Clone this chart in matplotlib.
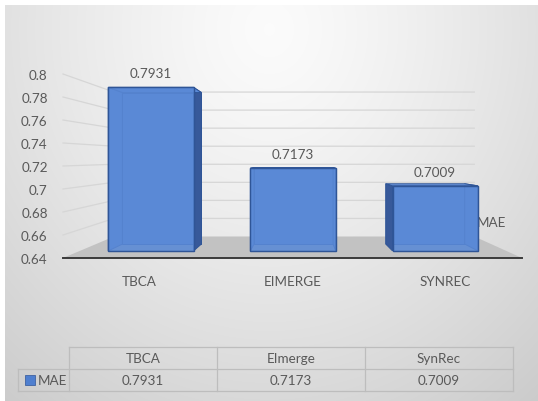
import numpy as np
import matplotlib
matplotlib.use('Agg')
import matplotlib.pyplot as plt
from matplotlib.patches import Polygon

# ---------------- data ----------------
categories = ['TBCA', 'EIMERGE', 'SYNREC']
table_headers = ['TBCA', 'EImerge', 'SynRec']
series_name = 'MAE'
mae_values = [0.7931, 0.7173, 0.7009]
ytick_values = [0.64, 0.66, 0.68, 0.70, 0.72, 0.74, 0.76, 0.78, 0.80]
ytick_labels = ['0.64', '0.66', '0.68', '0.7', '0.72', '0.74', '0.76', '0.78', '0.8']

# ---------------- style ----------------
plt.rcParams['font.family'] = ['Lato', 'DejaVu Sans']
TXT = '#595959'
FS = 9.7
W, H = 538, 402
fig = plt.figure(figsize=(W / 100, H / 100), dpi=100)

# background gradient
ax_bg = fig.add_axes([0, 0, 1, 1])
yy, xx = np.mgrid[0:H, 0:W]
r = np.hypot((xx - 269) / 300.0, (yy - 30) / 340.0)
g = np.clip(0.985 - 0.12 * r ** 1.3, 0, 1)
g[:6, :] = 1.0
g[:, :5] = 1.0
ax_bg.imshow(np.dstack([g, g, g]), extent=(0, W, H, 0), aspect='auto', interpolation='bilinear')
ax_bg.set_xlim(0, W)
ax_bg.set_ylim(H, 0)
ax_bg.axis('off')

# main (front-plane) axes
YMIN, YMAX = ytick_values[0], ytick_values[-1]
ax = fig.add_axes([63 / W, (H - 259) / H, 459 / W, 184 / H])
ax.set_xlim(-0.5, len(categories) - 0.5)
ax.set_ylim(YMIN, YMAX)
ax.patch.set_alpha(0)
for sp in ['top', 'right', 'left']:
    ax.spines[sp].set_visible(False)
ax.spines['bottom'].set_color('#3a3a3a')
ax.spines['bottom'].set_linewidth(1.4)
ax.spines['bottom'].set_zorder(5)
ax.set_yticks(ytick_values)
ax.set_yticklabels(ytick_labels)
ax.set_xticks(range(len(categories)))
ax.set_xticklabels(categories)
ax.tick_params(axis='y', length=0, pad=11, labelsize=FS, labelcolor=TXT)
ax.tick_params(axis='x', length=0, pad=12, labelsize=FS, labelcolor=TXT)

# perspective projection (vanishing point in data units)
XV, YV, S_BACK = 1.05, 0.727, 0.785
XL, XR = -0.5, len(categories) - 0.5


def P(x, v, z):
    k = 1 - (1 - S_BACK) * z
    return (XV + k * (x - XV), YV + k * (v - YV))


# gridlines (left wall + back wall)
for t in ytick_values[1:]:
    pts = [P(XL, t, 0), P(XL, t, 1), P(XR, t, 1)]
    ax.plot([p[0] for p in pts], [p[1] for p in pts], color='#d6d6d6', lw=0.9,
            zorder=1, clip_on=False)

# floor
floor = [P(XL, YMIN, 0), P(XR, YMIN, 0), P(XR, YMIN, 1), P(XL, YMIN, 1)]
ax.add_patch(Polygon(floor, closed=True, facecolor='#c2c2c2', edgecolor='none',
                     zorder=2, clip_on=False))

# bars
HW, Z0, Z1 = 0.30, 0.33, 0.65
FRONT = '#5a89d6'
SIDE = '#37599a'
TOP = '#6d97dc'
EDGE = '#2f5597'
for i, v in enumerate(mae_values):
    x0, x1 = i - HW, i + HW
    fb = [P(x0, YMIN, Z0), P(x1, YMIN, Z0), P(x1, v, Z0), P(x0, v, Z0)]
    bb = [P(x0, YMIN, Z1), P(x1, YMIN, Z1), P(x1, v, Z1), P(x0, v, Z1)]
    zb = 3
    ax.add_patch(Polygon(bb, facecolor=FRONT, edgecolor=EDGE, lw=0.7, zorder=zb, clip_on=False))
    left = [fb[0], bb[0], bb[3], fb[3]]
    right = [fb[1], bb[1], bb[2], fb[2]]
    ax.add_patch(Polygon(left, facecolor=SIDE if x0 > XV else FRONT, edgecolor=EDGE, lw=0.7,
                         zorder=zb + 0.1, clip_on=False))
    ax.add_patch(Polygon(right, facecolor=SIDE if x1 < XV else FRONT, edgecolor=EDGE, lw=0.7,
                         zorder=zb + 0.1, clip_on=False))
    top = [fb[3], fb[2], bb[2], bb[3]]
    ax.add_patch(Polygon(top, facecolor=TOP if v < YV else FRONT, edgecolor=EDGE, lw=0.7,
                         zorder=zb + 0.2, clip_on=False))
    ax.add_patch(Polygon(fb, facecolor=FRONT, edgecolor=EDGE, lw=0.9, alpha=0.88,
                         zorder=zb + 0.3, clip_on=False))
    ax.add_patch(Polygon(fb, facecolor='none', edgecolor=EDGE, lw=0.9,
                         zorder=zb + 0.4, clip_on=False))
    ax.annotate(f'{v:.4f}', xy=P(i, v, Z0), xytext=(0, 10), textcoords='offset points',
                ha='center', va='center', fontsize=FS, color=TXT, zorder=6)

# series (depth) axis label
ax.text(0.902, 0.196, series_name, transform=ax.transAxes, ha='left', va='center',
        fontsize=FS, color=TXT)

# ---------------- data table ----------------
LW = 51 / 148.0
ax_t = fig.add_axes([18 / W, (H - 392) / H, (513 - 18) / W, 44 / H])
ax_t.set_xlim(-LW, len(table_headers))
ax_t.set_ylim(0, 2)
ax_t.axis('off')
lc = '#bdbdbd'
lkw = dict(color=lc, lw=0.9, clip_on=False)
n = len(table_headers)
ax_t.plot([0, n], [2, 2], **lkw)
ax_t.plot([-LW, n], [1, 1], **lkw)
ax_t.plot([-LW, n], [0, 0], **lkw)
ax_t.plot([-LW, -LW], [0, 1], **lkw)
for j in range(n + 1):
    ax_t.plot([j, j], [0, 2], **lkw)
for j, (hd, v) in enumerate(zip(table_headers, mae_values)):
    ax_t.text(j + 0.5, 1.5, hd, ha='center', va='center', fontsize=FS, color=TXT)
    ax_t.text(j + 0.5, 0.5, f'{v:.4f}', ha='center', va='center', fontsize=FS, color=TXT)
ax_t.plot([-LW + 12 / 148.0], [0.5], marker='s', markersize=7.2, color='#4f7fcf',
          markeredgecolor='#2f5597', markeredgewidth=0.5, clip_on=False)
ax_t.text(-LW + 20 / 148.0, 0.5, series_name, ha='left', va='center', fontsize=FS, color=TXT)

fig.savefig('out.png', dpi=100)
